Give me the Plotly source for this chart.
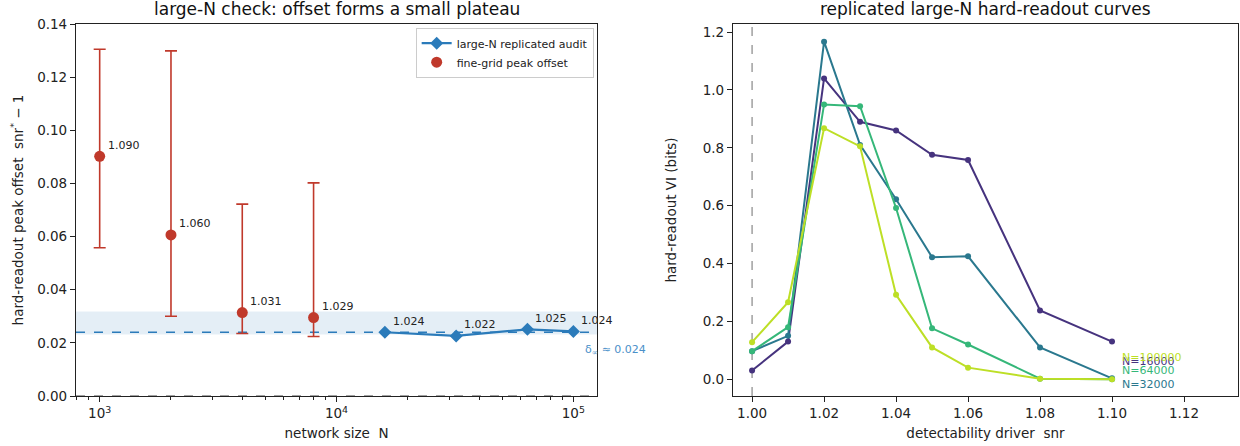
import plotly.graph_objects as go
import numpy as np

# ---------------- left panel data ----------------
fine_N = [1000, 2000, 4000, 8000]
fine_offset = [0.0902, 0.0606, 0.0314, 0.0295]
fine_err_hi = [0.1305, 0.1299, 0.0722, 0.0802]
fine_err_lo = [0.0558, 0.0300, 0.0235, 0.0224]
fine_labels = ["1.090", "1.060", "1.031", "1.029"]

audit_N = [16000, 32000, 64000, 100000]
audit_offset = [0.0240, 0.0226, 0.0251, 0.0243]
audit_labels = ["1.024", "1.022", "1.025", "1.024"]

delta_inf = 0.024
band_lo, band_hi = 0.0231, 0.0318

left_yticks = [0.00, 0.02, 0.04, 0.06, 0.08, 0.10, 0.12, 0.14]
left_xticks = [1000, 10000, 100000]
left_xticktext = ["10<sup>3</sup>", "10<sup>4</sup>", "10<sup>5</sup>"]
left_minor = [800, 900, 2000, 3000, 4000, 5000, 6000, 7000, 8000, 9000,
              20000, 30000, 40000, 50000, 60000, 70000, 80000, 90000]

# ---------------- right panel data ----------------
snr = [1.00, 1.01, 1.02, 1.03, 1.04, 1.05, 1.06, 1.08, 1.10]
curve_names = ["N=16000", "N=32000", "N=64000", "N=100000"]
vi_16000 = [0.030, 0.130, 1.040, 0.890, 0.860, 0.776, 0.758, 0.238, 0.130]
vi_32000 = [0.097, 0.150, 1.167, 0.810, 0.622, 0.422, 0.425, 0.110, 0.003]
vi_64000 = [0.097, 0.180, 0.950, 0.944, 0.592, 0.176, 0.120, 0.002, 0.000]
vi_100000 = [0.128, 0.266, 0.868, 0.805, 0.292, 0.110, 0.040, 0.002, 0.000]
curve_label_y = [0.063, -0.017, 0.029, 0.074]
right_xticks = [1.00, 1.02, 1.04, 1.06, 1.08, 1.10, 1.12]
right_yticks = [0.0, 0.2, 0.4, 0.6, 0.8, 1.0, 1.2]

colors = ["#46337e", "#2a788e", "#35b779", "#bddf26"]
RED = "#c0392b"
BLUE = "#2b7bba"
FONT = "DejaVu Sans"
AX = "#222222"

fig = go.Figure()

# left: audit line (legend first)
fig.add_trace(go.Scatter(
    x=audit_N, y=audit_offset, mode="lines+markers",
    name="large-N replicated audit",
    line=dict(color=BLUE, width=2.2),
    marker=dict(symbol="diamond", size=10, color=BLUE),
    xaxis="x", yaxis="y", legendrank=1))

# left: fine grid with error bars
fig.add_trace(go.Scatter(
    x=fine_N, y=fine_offset, mode="markers",
    name="fine-grid peak offset",
    marker=dict(symbol="circle", size=11, color=RED),
    error_y=dict(type="data", symmetric=False,
                 array=[h - o for h, o in zip(fine_err_hi, fine_offset)],
                 arrayminus=[o - l for o, l in zip(fine_offset, fine_err_lo)],
                 color=RED, thickness=1.6, width=6),
    xaxis="x", yaxis="y", legendrank=2))

# right: curves
vis = [vi_16000, vi_32000, vi_64000, vi_100000]
for name, v, c in zip(curve_names, vis, colors):
    fig.add_trace(go.Scatter(
        x=snr, y=v, mode="lines+markers", name=name, showlegend=False,
        line=dict(color=c, width=2),
        marker=dict(symbol="circle", size=6, color=c),
        xaxis="x2", yaxis="y2"))

annotations = []
for n, o, t in zip(fine_N, fine_offset, fine_labels):
    annotations.append(dict(x=np.log10(n), y=o, xref="x", yref="y", text=t,
                            showarrow=False, xanchor="left", yanchor="middle",
                            xshift=6, yshift=11, font=dict(family=FONT, size=11, color="#222")))
for n, o, t in zip(audit_N, audit_offset, audit_labels):
    annotations.append(dict(x=np.log10(n), y=o, xref="x", yref="y", text=t,
                            showarrow=False, xanchor="left", yanchor="middle",
                            xshift=6, yshift=11, font=dict(family=FONT, size=11, color="#222")))
annotations.append(dict(x=np.log10(110000), y=0.0175, xref="x", yref="y",
                        text="δ<sub>∞</sub> ≈ 0.024", showarrow=False,
                        xanchor="left", yanchor="middle",
                        font=dict(family=FONT, size=11, color="#4a90c9")))
for name, ly, c in zip(curve_names, curve_label_y, colors):
    annotations.append(dict(x=1.1022, y=ly, xref="x2", yref="y2", text=name,
                            showarrow=False, xanchor="left", yanchor="middle",
                            font=dict(family=FONT, size=11, color=c)))
# titles
annotations.append(dict(x=0.2242, y=1, xref="paper", yref="paper",
                        text="large-N check: offset forms a small plateau",
                        showarrow=False, xanchor="center", yanchor="bottom", yshift=3,
                        font=dict(family=FONT, size=17, color="#111")))
annotations.append(dict(x=0.7827, y=1, xref="paper", yref="paper",
                        text="replicated large-N hard-readout curves",
                        showarrow=False, xanchor="center", yanchor="bottom", yshift=3,
                        font=dict(family=FONT, size=17, color="#111")))

shapes = [
    dict(type="rect", xref="x domain", yref="y", x0=0, x1=1, y0=band_lo, y1=band_hi,
         fillcolor="rgba(31,119,180,0.12)", line=dict(width=0), layer="below"),
    dict(type="line", xref="x domain", yref="y", x0=0, x1=1, y0=delta_inf, y1=delta_inf,
         line=dict(color=BLUE, width=1.3, dash="dash"), layer="below"),
    dict(type="line", xref="x domain", yref="y", x0=0, x1=1, y0=0, y1=0,
         line=dict(color="#444", width=1, dash="dash"), layer="below"),
    dict(type="line", xref="x2", yref="y2 domain", x0=1.0, x1=1.0, y0=0, y1=1,
         line=dict(color="#888", width=1.2, dash="dash"), layer="below"),
]

axis_common = dict(showgrid=False, zeroline=False, showline=True, linecolor=AX,
                   linewidth=1.2, mirror=True, ticks="outside", ticklen=5,
                   tickcolor=AX, tickfont=dict(family=FONT, size=13.5, color="#222"))

fig.update_layout(
    width=1240, height=446,
    margin=dict(l=76, r=2, t=24, b=50),
    plot_bgcolor="white", paper_bgcolor="white",
    font=dict(family=FONT, size=13.5, color="#222"),
    xaxis=dict(domain=[0, 0.4484], type="log", range=[2.9, 5.1],
               tickvals=left_xticks, ticktext=left_xticktext,
               minor=dict(tickmode="array", tickvals=left_minor, ticks="outside",
                          ticklen=3, tickcolor=AX),
               title=dict(text="network size  N", standoff=8,
                          font=dict(family=FONT, size=13.5)),
               anchor="y", **axis_common),
    yaxis=dict(domain=[0, 1], range=[0, 0.14], tickvals=left_yticks,
               tickformat=".2f",
               title=dict(text="hard-readout peak offset  snr<sup>*</sup> − 1", standoff=10,
                          font=dict(family=FONT, size=13.5)),
               anchor="x", **axis_common),
    xaxis2=dict(domain=[0.5654, 1], range=[0.9947, 1.135], tickvals=right_xticks,
                tickformat=".2f",
                title=dict(text="detectability driver  snr", standoff=8,
                           font=dict(family=FONT, size=13.5)),
                anchor="y2", **axis_common),
    yaxis2=dict(domain=[0, 1], range=[-0.058, 1.228], tickvals=right_yticks,
                tickformat=".1f",
                title=dict(text="hard-readout VI (bits)", standoff=22,
                           font=dict(family=FONT, size=13.5)),
                anchor="x2", **axis_common),
    legend=dict(x=0.4455, xanchor="right", y=0.99, yanchor="top",
                bgcolor="white", bordercolor="#cccccc", borderwidth=1,
                font=dict(family=FONT, size=11, color="#222"),
                tracegroupgap=2),
    annotations=annotations,
    shapes=shapes,
)

fig.write_html("out.html")
